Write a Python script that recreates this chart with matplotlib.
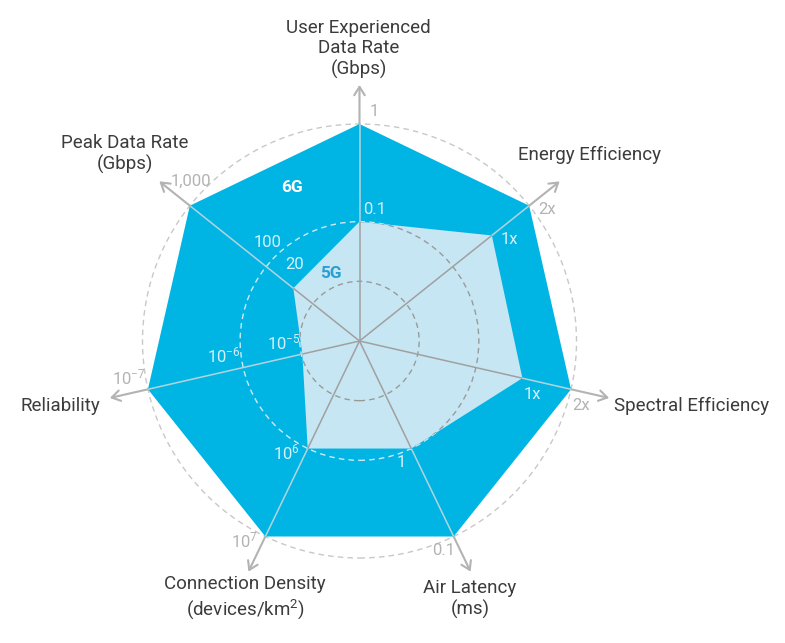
import numpy as np
import matplotlib
matplotlib.use("Agg")
import matplotlib.pyplot as plt
from matplotlib.patches import Polygon, Circle

plt.rcParams["font.family"] = ["Roboto", "DejaVu Sans"]
plt.rcParams["mathtext.default"] = "regular"

# axes of the radar, clockwise from the top
categories = [
    "User Experienced\nData Rate\n(Gbps)",
    "Energy Efficiency",
    "Spectral Efficiency",
    "Air Latency\n(ms)",
    "Connection Density\n(devices/km$^2$)",
    "Reliability",
    "Peak Data Rate\n(Gbps)",
]
# normalised radial scores (outer ring = 1)
score_6g = [1.0, 1.0, 1.0, 1.0, 1.0, 1.0, 1.0]
score_5g = [0.55, 0.78, 0.77, 0.55, 0.55, 0.27, 0.39]
ring_levels = [0.275, 0.55, 1.0]

# tick labels on each axis: (text, level)
axis_ticks = [
    [("0.1", 0.55), ("1", 1.0)],
    [("1x", 0.78), ("2x", 1.0)],
    [("1x", 0.77), ("2x", 1.0)],
    [("1", 0.55), ("0.1", 1.0)],
    [("10$^{6}$", 0.55), ("10$^{7}$", 1.0)],
    [("10$^{-5}$", 0.27), ("10$^{-6}$", 0.55), ("10$^{-7}$", 1.0)],
    [("20", 0.39), ("100", 0.55), ("1,000", 1.0)],
]

# layout (pixels of the 785x643 image)
W, H = 785, 643
CX, CY, R = 359.5, 341, 217
C6G = "#00b5e4"
C5G = "#c7e6f3"
GRAY = "#b3b3b3"
LIGHT = "#d6f0fa"
TXT = "#3c3c3c"
ARROW_R = 1.18

# pixel offsets for tick labels per axis (dx right, dy down)
tick_off = [(15, -12), (18, 4), (10, 16), (-10, 14), (-21, 4), (-19, -12), (1, -24)]
# pixel positions and alignment of axis titles
title_pos = [
    (358.5, 49, "center"), (589, 155, "center"), (614, 406, "left"),
    (470, 599, "center"), (245, 598, "center"), (100, 406, "right"),
    (125, 154, "center"),
]


def px(x, y):
    return (x - CX) / R, (CY - y) / R


n = len(categories)
angles = np.pi / 2 - np.arange(n) * 2 * np.pi / n
dirs = np.column_stack([np.cos(angles), np.sin(angles)])

fig = plt.figure(figsize=(W / 100, H / 100), dpi=100)
ax = fig.add_axes([0, 0, 1, 1])
ax.set_xlim(-CX / R, (W - CX) / R)
ax.set_ylim(-(H - CY) / R, CY / R)
ax.set_aspect("equal")
ax.axis("off")

dash = dict(linestyle=(0, (4, 3)), linewidth=1.0, fill=False)

# outer ring and outer parts of axes (arrows)
for lv in ring_levels:
    ax.add_patch(Circle((0, 0), lv, edgecolor="#c8c8c8", zorder=1, **dash))
for d in dirs:
    ax.annotate("", xy=d * ARROW_R, xytext=d * 1.0,
                arrowprops=dict(arrowstyle="->,head_length=0.6,head_width=0.38",
                                color=GRAY, lw=1.5, shrinkA=0, shrinkB=0),
                zorder=1)

# 6G polygon
poly6 = Polygon(dirs * np.array(score_6g)[:, None], closed=True,
                facecolor=C6G, edgecolor="none", zorder=2)
ax.add_patch(poly6)
for lv in ring_levels[:2]:
    c = Circle((0, 0), lv, edgecolor="#cdeaf6", zorder=3, **dash)
    ax.add_patch(c)
    c.set_clip_path(poly6)
for d in dirs:
    ax.plot([0, d[0]], [0, d[1]], color="#b5d3de", lw=1.1, zorder=3,
            solid_capstyle="butt")

# 5G polygon
poly5 = Polygon(dirs * np.array(score_5g)[:, None], closed=True,
                facecolor=C5G, edgecolor="none", zorder=4)
ax.add_patch(poly5)
for lv in ring_levels[:2]:
    c = Circle((0, 0), lv, edgecolor="#9a9a9a", zorder=5, **dash)
    ax.add_patch(c)
    c.set_clip_path(poly5)
for d, s in zip(dirs, score_5g):
    ax.plot([0, d[0] * s], [0, d[1] * s], color="#a0a0a0", lw=1.1, zorder=5,
            solid_capstyle="butt")

# tick labels
for d, ticks, (ox, oy) in zip(dirs, axis_ticks, tick_off):
    for txt, lv in ticks:
        x, y = d * lv
        ax.text(x + ox / R, y - oy / R, txt, ha="center", va="center",
                fontsize=12, color=GRAY if lv >= 1.0 else LIGHT, zorder=6)

# axis titles
for lab, (x, y, ha) in zip(categories, title_pos):
    ax.text(*px(x, y), lab, ha=ha, va="center", multialignment="center",
            fontsize=13.5, color=TXT, linespacing=1.2, zorder=6)

# series labels
ax.text(*px(292.5, 187), "6G", ha="center", va="center", fontsize=12.5,
        fontweight="bold", color="white", zorder=6)
ax.text(*px(331, 273.5), "5G", ha="center", va="center", fontsize=12.5,
        fontweight="bold", color="#2a9fd3", zorder=6)

fig.savefig("out.png", dpi=100)
